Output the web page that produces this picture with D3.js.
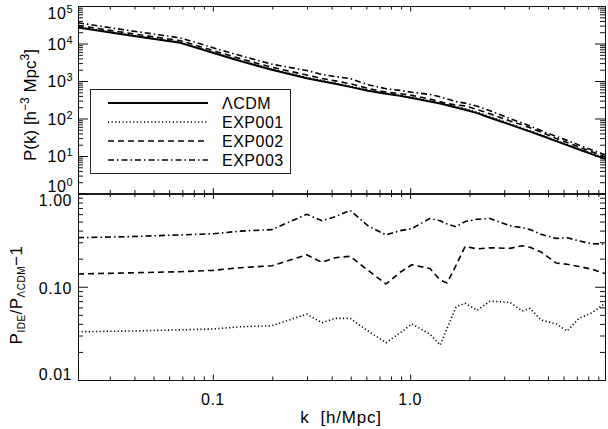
<!DOCTYPE html>
<html>
<head>
<meta charset="utf-8">
<script src="https://cdn.jsdelivr.net/npm/d3@7"></script>
<style>
  body { margin: 0; background: #fff; }
  svg { display: block; }
  text { font-family: 'Liberation Sans', Arial, Helvetica, sans-serif; fill: #000; }
</style>
</head>
<body>
<div id="svg-container"></div>
<script>
// data
const kValues = [0.0207, 0.0381, 0.0683, 0.100, 0.1375, 0.199, 0.299, 0.357, 0.417, 0.496,
                 0.612, 0.755, 0.890, 1.02, 1.26, 1.42, 1.54, 1.71, 1.90, 2.19,
                 2.54, 3.21, 3.70, 4.06, 4.61, 5.50, 6.25, 7.19, 8.27, 9.73];

const pLCDM   = [26700, 16300, 10400, 5660, 3410, 1990, 1190, 991, 841, 697,
                 550, 456, 401, 353, 284, 251, 225, 196, 171, 139,
                 105, 68.5, 53.0, 44.6, 35.1, 24.9, 19.5, 14.9, 11.4, 8.4];
const pEXP001 = [27580, 16850, 10760, 5860, 3540, 2070, 1250, 1030, 880, 729,
                 568, 467, 414, 367, 293, 257, 233, 208, 182, 147,
                 112, 73.2, 55.9, 47.2, 36.6, 25.9, 20.2, 15.6, 12.0, 8.95];
const pEXP002 = [30360, 18600, 11910, 6510, 3960, 2320, 1450, 1170, 1010, 845,
                 633, 505, 458, 414, 329, 281, 250, 229, 217, 174,
                 133, 86.2, 67.6, 56.4, 43.4, 29.4, 22.9, 17.4, 13.2, 9.57];
const pEXP003 = [35670, 21920, 14140, 7750, 4760, 2810, 1900, 1500, 1310, 1160,
                 798, 620, 561, 501, 437, 379, 331, 282, 257, 213,
                 162, 99.3, 75.8, 62.9, 47.9, 33.1, 26.1, 19.5, 14.7, 10.8];

const rEXP001 = [0.0329, 0.0335, 0.0345, 0.0352, 0.0372, 0.0382, 0.0509, 0.0411, 0.0458, 0.0458,
                 0.0335, 0.0251, 0.0320, 0.0400, 0.0310, 0.0237, 0.0358, 0.0610, 0.0664, 0.0560,
                 0.0700, 0.0680, 0.0550, 0.0586, 0.0440, 0.0400, 0.0335, 0.0460, 0.0520, 0.0660];
const rEXP002 = [0.137, 0.141, 0.145, 0.150, 0.160, 0.168, 0.220, 0.183, 0.205, 0.212,
                 0.150, 0.107, 0.143, 0.172, 0.157, 0.118, 0.110, 0.170, 0.270, 0.255,
                 0.262, 0.258, 0.275, 0.265, 0.236, 0.180, 0.174, 0.165, 0.155, 0.139];
const rEXP003 = [0.336, 0.345, 0.360, 0.370, 0.395, 0.410, 0.598, 0.510, 0.563, 0.660,
                 0.450, 0.359, 0.400, 0.420, 0.540, 0.510, 0.470, 0.440, 0.500, 0.530,
                 0.540, 0.450, 0.430, 0.410, 0.365, 0.330, 0.336, 0.310, 0.290, 0.287];

const seriesNames = ['\u039BCDM', 'EXP001', 'EXP002', 'EXP003'];
const xTickLabels = ['0.1', '1.0'];
const ratioTickLabels = ['0.01', '0.10', '1.00'];

// dimensions
const dim = {
    width: 608,
    height: 429,
    left: 78,
    right: 605,
    top: 6,
    mid: 193.5,
    bottom: 380
}

// line styles per series
const styles = [
    { dash: null,          width: 2 },
    { dash: '1.2,2.4',     width: 1.6 },
    { dash: '6,4',         width: 1.6 },
    { dash: '6,3,1.5,3',   width: 1.6 }
]

const svg = d3.select('#svg-container')
    .append('svg')
        .attr('width', dim.width)
        .attr('height', dim.height)

svg.append('rect')
    .attr('width', dim.width)
    .attr('height', dim.height)
    .attr('fill', '#fff')

// scales
const xScale = d3.scaleLog()
    .domain([0.0207, 9.73])
    .range([dim.left, dim.right])

const yTop = d3.scaleLog()
    .domain([1, 1e5])
    .range([dim.mid, dim.top])

const yBot = d3.scaleLog()
    .domain([0.01, 1])
    .range([dim.bottom, dim.mid])

const isMajor = d => Math.abs(Math.log10(d) - Math.round(Math.log10(d))) < 1e-6

// frame with inward ticks on all four sides
function drawFrame(yScale, y0, y1) {
    const xt = xScale.ticks()
    const yt = yScale.ticks()
    const xMaj = xt.filter(isMajor), xMin = xt.filter(d => !isMajor(d))
    const yMaj = yt.filter(isMajor), yMin = yt.filter(d => !isMajor(d))

    const specs = [
        [d3.axisRight(yScale), `translate(${dim.left},0)`, yMaj, 10, yMin, 5],
        [d3.axisLeft(yScale), `translate(${dim.right},0)`, yMaj, 10, yMin, 5],
        [d3.axisTop(xScale), `translate(0,${y0})`, xMaj, 5.5, xMin, 3.5],
        [d3.axisBottom(xScale), `translate(0,${y1})`, xMaj, 5.5, xMin, 3.5]
    ]
    specs.forEach(([axis, tr, maj, majLen, min, minLen]) => {
        svg.append('g')
            .attr('transform', tr)
            .call(axis.tickValues(maj).tickSize(majLen).tickSizeOuter(0).tickFormat(''))
        svg.append('g')
            .attr('transform', tr)
            .call(axis.tickValues(min).tickSize(minLen).tickSizeOuter(0).tickFormat(''))
    })
}

drawFrame(yTop, dim.mid, dim.top)
drawFrame(yBot, dim.bottom, dim.mid)

svg.selectAll('.domain, .tick line')
    .attr('stroke', '#111')
    .attr('stroke-width', 1)

// tick labels
const labelFont = { size: 16, spacing: 0.5 }

function labelShift(yPos, top, bottom) {
    if (Math.abs(yPos - top) < 1) return 12.5
    if (Math.abs(yPos - bottom) < 1) return -2
    return 6
}

// top panel: 10^n
yTop.ticks().filter(isMajor).forEach(v => {
    const yPos = yTop(v)
    const t = svg.append('text')
        .attr('x', 73)
        .attr('y', yPos + labelShift(yPos, dim.top, dim.mid))
        .attr('text-anchor', 'end')
        .style('font-size', labelFont.size + 'px')
        .style('letter-spacing', labelFont.spacing + 'px')
    t.append('tspan').text('10')
    t.append('tspan')
        .attr('dy', -6)
        .style('font-size', '11px')
        .text(Math.round(Math.log10(v)))
})

// bottom panel
yBot.ticks().filter(isMajor).forEach((v, i) => {
    const yPos = yBot(v)
    svg.append('text')
        .attr('x', 72)
        .attr('y', yPos + (Math.abs(yPos - dim.mid) < 1 ? 12 : labelShift(yPos, dim.mid, dim.bottom) + 1.5))
        .attr('text-anchor', 'end')
        .style('font-size', labelFont.size + 'px')
        .style('letter-spacing', labelFont.spacing + 'px')
        .text(ratioTickLabels[i])
})

// x labels
xScale.ticks().filter(isMajor).forEach((v, i) => {
    svg.append('text')
        .attr('x', xScale(v))
        .attr('y', 405)
        .attr('text-anchor', 'middle')
        .style('font-size', labelFont.size + 'px')
        .style('letter-spacing', labelFont.spacing + 'px')
        .text(xTickLabels[i])
})

// axis titles
svg.append('text')
    .attr('x', 341)
    .attr('y', 423)
    .attr('text-anchor', 'middle')
    .style('font-size', '17px')
    .style('letter-spacing', '0.8px')
    .style('white-space', 'pre')
    .text('k  [h/Mpc]')

const yt1 = svg.append('text')
    .attr('transform', 'translate(36,105) rotate(-90)')
    .attr('text-anchor', 'middle')
    .style('font-size', '17px')
    .style('white-space', 'pre')
yt1.append('tspan').text('P(k) [h')
yt1.append('tspan').attr('dy', -7).style('font-size', '12px').text('\u22123')
yt1.append('tspan').attr('dy', 7).text(' Mpc')
yt1.append('tspan').attr('dy', -7).style('font-size', '12px').text('3')
yt1.append('tspan').attr('dy', 7).text(']')

const yt2 = svg.append('text')
    .attr('transform', 'translate(22,295) rotate(-90)')
    .attr('text-anchor', 'middle')
    .style('font-size', '17px')
    .style('letter-spacing', '0.5px')
yt2.append('tspan').text('P')
yt2.append('tspan').attr('dy', 3).style('font-size', '10px').text('IDE')
yt2.append('tspan').attr('dy', -3).text('/P')
yt2.append('tspan').attr('dy', 3).style('font-size', '10px').text('\u039BCDM')
yt2.append('tspan').attr('dy', -3).text('\u22121')

// curves
const topSeries = [pLCDM, pEXP001, pEXP002, pEXP003]
const botSeries = [null, rEXP001, rEXP002, rEXP003]

const topLine = d3.line()
    .x((d, i) => xScale(kValues[i]))
    .y(d => yTop(d))
const botLine = d3.line()
    .x((d, i) => xScale(kValues[i]))
    .y(d => yBot(d))

function styled(path, s) {
    path.attr('fill', 'none')
        .attr('stroke', '#000')
        .attr('stroke-width', s.width)
        .attr('stroke-linejoin', 'round')
    if (s.dash) path.attr('stroke-dasharray', s.dash)
    return path
}

topSeries.forEach((vals, j) => {
    styled(svg.append('path').attr('d', topLine(vals)), styles[j])
})
botSeries.forEach((vals, j) => {
    if (vals) styled(svg.append('path').attr('d', botLine(vals)), styles[j])
})

// legend
const legend = svg.append('g')
legend.append('rect')
    .attr('x', 90.5)
    .attr('y', 89.5)
    .attr('width', 200)
    .attr('height', 84)
    .attr('fill', '#fff')
    .attr('stroke', '#222')
    .attr('stroke-width', 1)

seriesNames.forEach((name, j) => {
    const ly = 103 + j * 19
    styled(legend.append('line')
        .attr('x1', 108).attr('x2', 208)
        .attr('y1', ly).attr('y2', ly), styles[j])
    legend.append('text')
        .attr('x', 222)
        .attr('y', ly + 6)
        .style('font-size', labelFont.size + 'px')
        .style('letter-spacing', labelFont.spacing + 'px')
        .text(name)
})
</script>
</body>
</html>
